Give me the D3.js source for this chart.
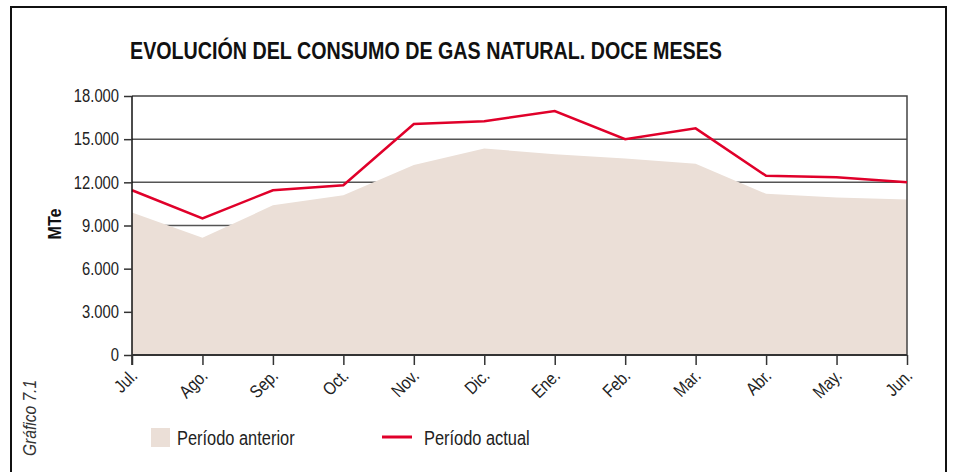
<!DOCTYPE html>
<html>
<head>
<meta charset="utf-8">
<script src="https://cdn.jsdelivr.net/npm/d3@7"></script>
<style>
  body { margin: 0; background: #fff; }
  svg { display: block; }
  text { font-family: "Liberation Sans", Arial, sans-serif; fill: #222; }
</style>
</head>
<body>
<svg width="954" height="472"></svg>
<script>
var meses = ["Jul.", "Ago.", "Sep.", "Oct.", "Nov.", "Dic.", "Ene.", "Feb.", "Mar.", "Abr.", "May.", "Jun."];
var periodoAnterior = [9900, 8150, 10400, 11100, 13200, 14350, 13950, 13650, 13300, 11200, 10950, 10800];
var periodoActual = [11450, 9500, 11450, 11800, 16050, 16250, 16950, 15000, 15750, 12450, 12350, 12000];
var yTicks = [0, 3000, 6000, 9000, 12000, 15000, 18000];

// estrecha el texto para imitar una fuente condensada
function narrow(sel, k) {
  sel.each(function () {
    var w = this.getComputedTextLength();
    d3.select(this)
      .attr("textLength", w * (k || 0.8))
      .attr("lengthAdjust", "spacingAndGlyphs");
  });
}

function init() {
  var svg = d3.select("svg");
  var left = 132, right = 907, top = 96, bottom = 355;

  // marco exterior (abierto por abajo)
  svg.append("path")
      .attr("d", "M11,472V7H946V472")
      .attr("fill", "none")
      .attr("stroke", "#111")
      .attr("stroke-width", 2);

  svg.append("text")
      .attr("x", 130)
      .attr("y", 59)
      .attr("font-size", 24)
      .attr("font-weight", "bold")
      .attr("textLength", 592)
      .attr("lengthAdjust", "spacingAndGlyphs")
      .style("fill", "#111")
      .text("EVOLUCIÓN DEL CONSUMO DE GAS NATURAL. DOCE MESES");

  var x = d3.scalePoint().domain(meses).range([left, right]);
  var y = d3.scaleLinear().domain([0, 18000]).range([bottom, top]);

  // rejilla (detrás del área)
  svg.append("g").selectAll("line")
      .data(yTicks.filter(function (d) { return d > 0 && d < 18000; }))
      .join("line")
      .attr("x1", left).attr("x2", right)
      .attr("y1", function (d) { return y(d); })
      .attr("y2", function (d) { return y(d); })
      .attr("stroke", "#555")
      .attr("stroke-width", 1.5);

  var area = d3.area()
      .x(function (d, i) { return x(meses[i]); })
      .y0(y(0))
      .y1(function (d) { return y(d); });

  svg.append("path")
      .datum(periodoAnterior)
      .attr("d", area)
      .attr("fill", "#ebdfd7");

  // marco del gráfico
  svg.append("path")
      .attr("d", "M" + left + "," + top + "H" + right + "V" + bottom)
      .attr("fill", "none")
      .attr("stroke", "#444")
      .attr("stroke-width", 1.5);

  var line = d3.line()
      .x(function (d, i) { return x(meses[i]); })
      .y(function (d) { return y(d); });

  svg.append("path")
      .datum(periodoActual)
      .attr("d", line)
      .attr("fill", "none")
      .attr("stroke", "#e0002a")
      .attr("stroke-width", 2.5);

  // eje y
  var yAxis = svg.append("g")
      .attr("transform", "translate(" + left + ",0)")
      .call(d3.axisLeft(y)
        .tickValues(yTicks)
        .tickSize(8)
        .tickFormat(function (d) { return d3.format(",")(d).replace(/,/g, "."); }));
  yAxis.select(".domain").attr("d", "M0," + top + "V" + (bottom + 10)).attr("stroke", "#111").attr("stroke-width", 1.5);
  yAxis.selectAll(".tick line").attr("stroke", "#333").attr("stroke-width", 1.5);
  yAxis.selectAll(".tick text")
      .attr("x", -13)
      .attr("font-size", 18)
      .attr("font-family", null)
      .style("fill", "#222")
      .call(narrow, 0.82);

  // eje x
  var xAxis = svg.append("g")
      .attr("transform", "translate(0," + bottom + ")")
      .call(d3.axisBottom(x).tickSize(10).tickPadding(0));
  xAxis.select(".domain").attr("d", "M" + left + ",0H" + right).attr("stroke", "#333").attr("stroke-width", 2);
  xAxis.selectAll(".tick line").attr("stroke", "#333").attr("stroke-width", 1.5);
  xAxis.selectAll(".tick text")
      .attr("font-size", 18)
      .attr("font-family", null)
      .attr("text-anchor", "end")
      .attr("x", 0).attr("y", 0).attr("dy", "0.7em")
      .attr("transform", "translate(-3,13) rotate(-45)")
      .style("fill", "#222")
      .call(narrow, 0.85);

  svg.append("text")
      .attr("transform", "translate(61,224) rotate(-90)")
      .attr("text-anchor", "middle")
      .attr("font-size", 19)
      .attr("font-weight", "bold")
      .style("fill", "#111")
      .text("MTe")
      .call(narrow, 0.85);

  svg.append("text")
      .attr("transform", "translate(36,418) rotate(-90)")
      .attr("text-anchor", "middle")
      .attr("font-size", 19)
      .attr("font-style", "italic")
      .style("fill", "#333")
      .text("Gráfico 7.1")
      .call(narrow, 0.82);

  // leyenda
  var leg = svg.append("g");
  leg.append("rect")
      .attr("x", 151).attr("y", 428)
      .attr("width", 19).attr("height", 19)
      .attr("fill", "#ebdfd7");
  leg.append("text")
      .attr("x", 177).attr("y", 445)
      .attr("font-size", 20)
      .text("Período anterior")
      .call(narrow, 0.82);
  leg.append("line")
      .attr("x1", 382).attr("x2", 412)
      .attr("y1", 437).attr("y2", 437)
      .attr("stroke", "#e0002a")
      .attr("stroke-width", 3);
  leg.append("text")
      .attr("x", 424).attr("y", 445)
      .attr("font-size", 20)
      .text("Período actual")
      .call(narrow, 0.82);
}

window.onload = init;
</script>
</body>
</html>
